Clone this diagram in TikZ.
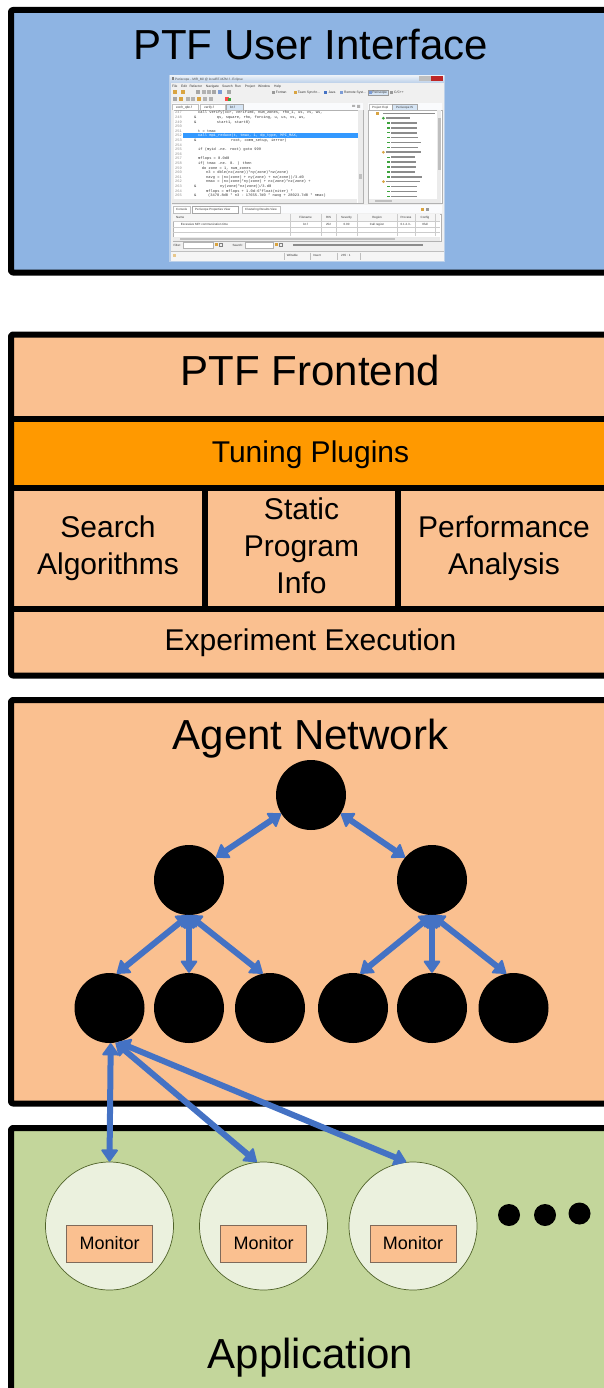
\documentclass[tikz,border=0pt]{standalone}
\usepackage{fontspec}
\setmainfont{Liberation Sans}
\newfontfamily\codefont{Liberation Mono}
\usetikzlibrary{arrows.meta}

\definecolor{uiblue}{HTML}{8EB4E3}
\definecolor{peach}{HTML}{FAC090}
\definecolor{tuneorange}{HTML}{FF9900}
\definecolor{appgreen}{HTML}{C3D69B}
\definecolor{procfill}{HTML}{EBF1DE}
\definecolor{procline}{HTML}{4F6228}
\definecolor{linkblue}{HTML}{4472C4}
\definecolor{monline}{HTML}{7F6A5A}
\definecolor{winframe}{HTML}{BCD0E9}
\definecolor{winbg}{HTML}{F0F0F0}
\definecolor{selblue}{HTML}{3399FF}
\definecolor{tabsel}{HTML}{D6E5F5}
\definecolor{icongreen}{HTML}{3DA33D}
\definecolor{iconorange}{HTML}{D9A441}

\begin{document}
\begin{tikzpicture}[x=1pt, y=-1pt,
  frame/.style={line width=6pt, line join=round, rounded corners=2pt},
  divider/.style={line width=6pt},
  bigtitle/.style={font=\fontsize{42}{50}\selectfont, inner sep=0pt, anchor=base},
  layer/.style={font=\fontsize{30}{37}\selectfont, inner sep=0pt, align=center},
  agent/.style={circle, fill=black, minimum size=70pt, inner sep=0pt},
  proc/.style={circle, fill=procfill, draw=procline, line width=0.7pt, minimum size=128pt, inner sep=0pt},
  monitor/.style={rectangle, fill=peach, draw=monline, line width=0.9pt, minimum width=86pt, minimum height=37pt, inner sep=0pt, font=\fontsize{18}{20}\selectfont},
  more/.style={circle, fill=black, minimum size=22pt, inner sep=0pt},
  link/.style={draw=linkblue, line width=6pt, arrows={Triangle[length=13pt,width=18pt,line width=2pt,round]-Triangle[length=13pt,width=18pt,line width=2pt,round]}},
  ui/.style={font=\fontsize{3.3}{4}\selectfont, inner sep=0pt, text=black!80},
  code/.style={font=\codefont\fontsize{3.7}{4}\selectfont, inner sep=0pt, anchor=base west, text=black!80},
  lineno/.style={code, text=black!45},
  txtbar/.style={fill=black!45},
]
\useasboundingbox (0,0) rectangle (603,1388);

% ---------------- PTF User Interface ----------------
\filldraw[frame, fill=uiblue] (11,10) rectangle (610,272.5);
\node[bigtitle] (uititle) at (310.5,60) {PTF User Interface};

% Eclipse window
\fill[winframe] (169,75) rectangle (445,262);
\shade[top color=white!70!winframe, bottom color=winframe] (170,75.5) rectangle (444,83);
\fill[black!50] (171.5,77.5) rectangle (174,80);
\node[ui, anchor=base west, text=black!70, font=\fontsize{3.2}{4}\selectfont] (wintitle) at (175,80.3) {Periscope - MIR\_Mil @ localBT-MZM.f - Eclipse};
\fill[black!25] (419,75.8) rectangle (430.5,80.6);
\fill[red!70!black!85] (431,75.8) rectangle (443,80.6);
\fill[winbg] (170.5,83) rectangle (443.5,261);

% menu bar
\foreach \w/\x [count=\i] in {File/172, Edit/181, Refactor/189.3, Navigate/205.7, Search/222, Run/234.7, Project/244.7, Window/258, Help/274}
  \node[ui, anchor=base west] (menu\i) at (\x,87.2) {\w};

% toolbars
\foreach \x/\c in {173/iconorange, 181/iconorange, 196/black!35, 201.5/black!30, 206.5/black!30, 211.5/black!35, 218/linkblue!70, 226.7/black!35}
  \fill[\c] (\x,90.3) rectangle ++(4,4);
\foreach \x/\c in {173/black!35, 179/iconorange, 186/black!30, 191/black!30, 197/iconorange, 203/black!30, 209/black!30, 225/red!70}
  \fill[\c] (\x,97) rectangle ++(4,4);
\fill[icongreen] (228,98.5) rectangle ++(2.5,2.5);
\foreach \x/\c in {271.7/black!40, 293.5/iconorange, 324/linkblue, 340/linkblue!70}
  \fill[\c] (\x,90.8) rectangle ++(3.2,3.2);
\node[ui, anchor=base west] (pfortran) at (275.7,93.6) {Fortran};
\node[ui, anchor=base west] (pteam) at (297.7,93.6) {Team Synchr...};
\node[ui, anchor=base west] (pjava) at (328.3,93.6) {Java};
\node[ui, anchor=base west] (premote) at (344,93.6) {Remote Syst...};
\filldraw[fill=tabsel, draw=black!40, line width=0.3pt] (367.7,89.8) rectangle (388.6,95.2);
\fill[linkblue!70] (368.6,91) rectangle ++(3,3);
\node[ui, anchor=base west] (pperi) at (372.2,93.6) {Periscope};
\fill[black!40] (390,90.8) rectangle ++(3.2,3.2);
\node[ui, anchor=base west] (pcpp) at (394,93.6) {C/C++};

% editor
\fill[white!92!winframe] (171.7,103.3) rectangle (363.3,110);
\filldraw[fill=white, draw=black!25, line width=0.3pt] (171.7,104) rectangle (198.3,110);
\filldraw[fill=white, draw=black!25, line width=0.3pt] (200,104) rectangle (225,110);
\filldraw[fill=tabsel, draw=black!35, line width=0.3pt] (226,104) rectangle (243.3,110);
\node[ui, anchor=base west] (tab1) at (176,108.4) {exch\_qbc.f};
\node[ui, anchor=base west] (tab2) at (204,108.4) {verify.f};
\node[ui, anchor=base west] (tab3) at (230,108.4) {bt.f};
\fill[black!30] (352,105) rectangle ++(3,2) (357,105) rectangle ++(3,3);
\filldraw[fill=white, draw=black!30, line width=0.3pt] (171.7,110) rectangle (363.3,203.3);
\fill[black!6] (171.7,110) rectangle (174,203.3);
\fill[black!8] (357.5,110.3) rectangle (363,203);
\fill[black!25] (358.5,174) rectangle (362,179);
\fill[black!8] (172,199.5) rectangle (357,203);
\fill[selblue] (183,133.4) rectangle (358,137.9);
\foreach \n [count=\i from 0] in {247,...,265}
  \node[lineno] (ln\n) at (175,{114+4.6*\i}) {\n};
\node[code] (cl1) at (198,114) {call verify(xcr, verified, num\_zones, rho\_i, us, vs, ws,};
\node[code] (cl2a) at (194,118.6) {\&};
\node[code] (cl2b) at (216.7,118.6) {qs, square, rho, forcing, u, us, vs, ws,};
\node[code] (cl3a) at (194,123.2) {\&};
\node[code] (cl3b) at (216.7,123.2) {start1, start0)};
\node[code] (cl5) at (198,132.4) {t = tmax};
\node[code, text=white] (cl6) at (198,137) {call mpi\_reduce(t, tmax, 1, dp\_type, MPI\_MAX,};
\node[code] (cl7a) at (194,141.6) {\&};
\node[code] (cl7b) at (231,141.6) {root, comm\_setup, ierror)};
\node[code] (cl9) at (198,150.8) {if (myid .ne. root) goto 999};
\node[code] (cl11) at (198,160) {mflops = 0.0d0};
\node[code] (cl12) at (198,164.6) {if( tmax .ne. 0. ) then};
\node[code] (cl13) at (201.7,169.2) {do zone = 1, num\_zones};
\node[code] (cl14) at (206,173.8) {n3 = dble(nx(zone))*ny(zone)*nz(zone)};
\node[code] (cl15) at (206,178.4) {navg = (nx(zone) + ny(zone) + nz(zone))/3.d0};
\node[code] (cl16) at (206,183) {nmax = (nx(zone)*ny(zone) + nx(zone)*nz(zone) +};
\node[code] (cl17a) at (194,187.6) {\&};
\node[code] (cl17b) at (220,187.6) {ny(zone)*nz(zone))/3.d0};
\node[code] (cl18) at (206,192.2) {mflops = mflops + 1.0d-6*float(niter) *};
\node[code] (cl19a) at (194,196.8) {\&};
\node[code] (cl19b) at (208,196.8) {(3478.8d0 * n3 - 17655.7d0 * navg + 28023.7d0 * nmax)};

% outline panel
\fill[white!92!winframe] (368.3,103.3) rectangle (441.7,110);
\filldraw[fill=white, draw=black!25, line width=0.3pt] (369,104) rectangle (391.7,110);
\filldraw[fill=tabsel, draw=black!35, line width=0.3pt] (392.5,104) rectangle (416.7,110);
\node[ui, anchor=base west, font=\fontsize{3}{4}\selectfont] (otab1) at (372,108.3) {Project Expl};
\node[ui, anchor=base west, font=\fontsize{3}{4}\selectfont] (otab2) at (396,108.3) {Periscope IS};
\filldraw[fill=white, draw=black!30, line width=0.3pt] (368.3,110) rectangle (441.7,203.3);
\fill[black!8] (437,110.3) rectangle (441.4,199.5);
\fill[black!25] (437.8,118) rectangle (440.6,170);
\fill[black!8] (368.6,199.5) rectangle (441.4,203);
\fill[black!25] (375,200.2) rectangle (392,202.3);
% tree rows: icon and label of each entry
\fill[iconorange] (376,112) rectangle ++(3,2.6);
\fill[txtbar] (382.7,112.6) rectangle (435,114.2);
\fill[icongreen] (383.4,118.2) circle (1.5pt);
\fill[txtbar] (385.7,117.4) rectangle (410,119);
\foreach \y/\e in {123/416.7, 127.9/416.7, 132.8/416.7, 137.7/418, 142.6/421, 147.5/418,
                   157.3/415, 162.2/416, 167.1/416, 172/415, 176.9/422,
                   186.7/417, 191.6/417, 196.5/417} {
  \fill[icongreen] (386.6,\y-0.7) rectangle ++(3,1.4);
  \fill[txtbar] (390.7,\y-0.8) rectangle (\e,\y+0.8);
}
\fill[iconorange] (383.4,152.3) circle (1.5pt);
\fill[txtbar] (385.7,151.5) rectangle (421,153.1);
\fill[iconorange] (383.4,181.6) circle (1.5pt);
\fill[txtbar] (385.7,180.8) rectangle (420,182.4);

% properties view
\fill[white!92!winframe] (171.7,205) rectangle (441.7,213);
\filldraw[fill=white, draw=black!25, line width=0.3pt] (172.7,206.5) rectangle (190.5,213);
\filldraw[fill=white, draw=black!35, line width=0.3pt] (191.7,206.5) rectangle (238.3,213);
\filldraw[fill=white, draw=black!25, line width=0.3pt] (241.7,206.5) rectangle (280,213);
\node[ui, anchor=base west, font=\fontsize{3}{4}\selectfont] (btab1) at (176,210.9) {Console};
\node[ui, anchor=base west, font=\fontsize{3}{4}\selectfont] (btab2) at (195,210.9) {Periscope Properties View};
\node[ui, anchor=base west, font=\fontsize{3}{4}\selectfont] (btab3) at (245,210.9) {Clustering Results View};
\fill[iconorange] (421,208) rectangle ++(3,3);
\fill[black!40] (426,208) rectangle ++(3,3);
\filldraw[fill=white, draw=black!30, line width=0.3pt] (172.7,214) rectangle (440.7,241);
\fill[black!4] (173,214.3) rectangle (440.4,220.8);
\draw[black!20, line width=0.3pt] (173,220.8) -- (440.4,220.8) (173,227.2) -- (440.4,227.2) (173,232.6) -- (440.4,232.6);
\foreach \x in {290,321,336,357,397,415,435}
  \draw[black!20, line width=0.3pt] (\x,214.3) -- (\x,236.5);
\node[ui, anchor=base west, font=\fontsize{3}{4}\selectfont] (hname) at (176,218.7) {Name};
\foreach \t/\x [count=\i] in {Filename/305.5, RIS/328.5, Severity/346.5, Region/377, Process/406, Config/425}
  \node[ui, anchor=base, font=\fontsize{3}{4}\selectfont] (head\i) at (\x,218.7) {\t};
\node[ui, anchor=base west, font=\fontsize{3}{4}\selectfont] (rname) at (180.7,225.1) {Excessive MPI communication time};
\foreach \t/\x [count=\i] in {bt.f/305.5, 252/328.5, 0.00/346.5, Call region/377, 0.1.2.3../406, 0full/425}
  \node[ui, anchor=base, font=\fontsize{3}{4}\selectfont] (cell\i) at (\x,225.1) {\t};
\fill[black!8] (173,237) rectangle (440.4,240.7);
\fill[black!25] (180,237.7) rectangle (395,240);
\node[ui, anchor=base west, font=\fontsize{3}{4}\selectfont] (filt) at (173.3,246.4) {Filter:};
\filldraw[fill=white, draw=black!30, line width=0.3pt] (182.7,242.6) rectangle (212.7,248);
\fill[iconorange] (215,243.5) rectangle ++(3,3);
\draw[black!50, line width=0.3pt] (219,243.5) rectangle ++(3,3);
\node[ui, anchor=base west, font=\fontsize{3}{4}\selectfont] (srch) at (232.3,246.4) {Search:};
\filldraw[fill=white, draw=black!30, line width=0.3pt] (245,242.6) rectangle (273.3,248);
\fill[iconorange] (275,243.5) rectangle ++(3,3);
\draw[black!50, line width=0.3pt] (279,243.5) rectangle ++(3,3);
\fill[txtbar] (293,244.5) rectangle (423,246.1);

% status bar
\fill[black!4] (170.5,251.5) rectangle (443.5,260.5);
\draw[black!25, line width=0.3pt] (170.5,251.5) -- (443.5,251.5);
\foreach \x in {284,310,337,360}
  \draw[black!25, line width=0.3pt] (\x,252.5) -- (\x,259.8);
\fill[iconorange!60] (173,254) rectangle ++(3,3);
\node[ui, anchor=base west, font=\fontsize{3}{4}\selectfont] (swrite) at (286.7,256.7) {Writable};
\node[ui, anchor=base west, font=\fontsize{3}{4}\selectfont] (sins) at (313,256.7) {Insert};
\node[ui, anchor=base west, font=\fontsize{3}{4}\selectfont] (spos) at (341,256.7) {235 : 1};

% ---------------- PTF Frontend ----------------
\fill[peach] (11,334.5) rectangle (610,675.5);
\fill[tuneorange] (11,418.5) rectangle (610,487.5);
\draw[divider] (11,418.5) -- (610,418.5);
\draw[divider] (11,487.5) -- (610,487.5);
\draw[divider] (11,608.5) -- (610,608.5);
\draw[divider] (205,487.5) -- (205,608.5);
\draw[divider] (398,487.5) -- (398,608.5);
\draw[frame] (11,334.5) rectangle (610,675.5);
\node[bigtitle] (fetitle) at (310.5,385) {PTF Frontend};
\node[layer, anchor=base] (tuning) at (310.5,462) {Tuning Plugins};
\node[layer] (search) at (108,548.7) {Search\\Algorithms};
\node[layer] (static) at (301.5,545.5) {Static\\Program\\Info};
\node[layer] (perf) at (504,548.7) {Performance\\Analysis};
\node[layer, anchor=base] (exec) at (310.5,650) {Experiment Execution};

% ---------------- Agent Network ----------------
\filldraw[frame, fill=peach] (11,700) rectangle (610,1103.5);
\node[bigtitle] (antitle) at (310.5,749) {Agent Network};
\node[agent] (root) at (311,795) {};
\node[agent] (ml) at (189,880) {};
\node[agent] (mr) at (432,880) {};
\node[agent] (l1) at (109.5,1008) {};
\node[agent] (l2) at (189,1008) {};
\node[agent] (l3) at (270,1008) {};
\node[agent] (r1) at (353,1008) {};
\node[agent] (r2) at (432,1008) {};
\node[agent] (r3) at (513.5,1008) {};

% ---------------- Application ----------------
\filldraw[frame, fill=appgreen] (11,1128) rectangle (610,1400);
\node[bigtitle] (apptitle) at (310.5,1368) {Application};
\node[proc] (p1) at (109.5,1226) {};
\node[proc] (p2) at (263.5,1226) {};
\node[proc] (p3) at (413,1226) {};
\node[monitor] (mon1) at (109.7,1243.5) {Monitor};
\node[monitor] (mon2) at (263.7,1243.5) {Monitor};
\node[monitor] (mon3) at (413,1243.5) {Monitor};
\node[more] (dot1) at (509,1215) {};
\node[more] (dot2) at (545,1215) {};
\node[more] (dot3) at (579.5,1213.5) {};

% ---------------- communication links ----------------
\draw[link] (root.-148) -- (ml.40);
\draw[link] (root.-32) -- (mr.140);
\draw[link] (ml.south) -- (l1.78);
\draw[link] (ml.south) -- (l2.north);
\draw[link] (ml.south) -- (l3.102);
\draw[link] (mr.south) -- (r1.78);
\draw[link] (mr.south) -- (r2.north);
\draw[link] (mr.south) -- (r3.102);
\draw[link] (l1.-88) -- (p1.north);
\draw[link] (l1.-80) -- (p2.96);
\draw[link] (l1.-76) -- (p3.96);
\end{tikzpicture}
\end{document}
